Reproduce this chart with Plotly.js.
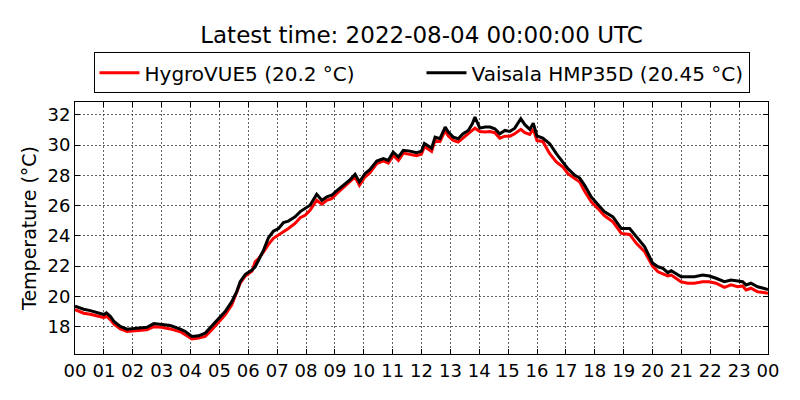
<!DOCTYPE html>
<html>
<head>
<meta charset="utf-8">
<script src="https://cdn.plot.ly/plotly-3.0.1.min.js"></script>
<style>
  html, body { margin: 0; padding: 0; background: #fff; }
  #chart { width: 800px; height: 400px; }
</style>
</head>
<body>
<div id="chart"></div>
<script>
// hours since 2022-08-03 00:00 UTC
const hours = [
  0.0, 0.3, 0.53, 0.77, 1.0, 1.09, 1.23, 1.35, 1.57, 1.8,
  2.0, 2.26, 2.49, 2.73, 3.0, 3.3, 3.65, 3.82, 4.05, 4.28,
  4.51, 4.74, 5.0, 5.2, 5.43, 5.6, 5.72, 5.9, 6.13, 6.24,
  6.36, 6.53, 6.7, 6.87, 7.05, 7.22, 7.39, 7.62, 7.8, 7.97,
  8.14, 8.37, 8.55, 8.72, 8.89, 9.06, 9.3, 9.53, 9.7, 9.85,
  10.04, 10.21, 10.45, 10.68, 10.85, 11.02, 11.2, 11.37, 11.6, 11.83,
  12.0, 12.1, 12.35, 12.47, 12.64, 12.82, 12.93, 13.1, 13.27, 13.44,
  13.62, 13.76, 13.85, 14.02, 14.2, 14.37, 14.54, 14.71, 14.89, 15.06,
  15.23, 15.44, 15.58, 15.75, 15.87, 16.0, 16.2, 16.44, 16.67, 16.9,
  17.07, 17.31, 17.48, 17.65, 17.88, 18.11, 18.34, 18.63, 18.92, 19.21,
  19.44, 19.73, 20.0, 20.19, 20.36, 20.53, 20.65, 20.82, 20.99, 21.22,
  21.45, 21.74, 21.97, 22.2, 22.49, 22.72, 22.95, 23.12, 23.24, 23.41,
  23.64, 23.85, 24.0
];

const hygroVUE5 = [
  19.12, 18.88, 18.81, 18.72, 18.59, 18.68, 18.44, 18.15, 17.84, 17.67,
  17.71, 17.73, 17.78, 17.99, 17.95, 17.84, 17.65, 17.45, 17.18, 17.23,
  17.34, 17.78, 18.33, 18.77, 19.43, 20.2, 20.86, 21.34, 21.67, 22.28,
  22.5, 22.94, 23.43, 23.83, 24.04, 24.26, 24.48, 24.82, 25.2, 25.36,
  25.69, 26.35, 26.09, 26.35, 26.46, 26.79, 27.19, 27.56, 27.89, 27.34,
  27.89, 28.15, 28.77, 28.95, 28.81, 29.32, 28.99, 29.47, 29.39, 29.3,
  29.4, 29.9, 29.58, 30.31, 30.24, 30.97, 30.59, 30.31, 30.2, 30.46,
  30.75, 30.97, 31.12, 30.9, 30.86, 30.9, 30.82, 30.46, 30.59, 30.59,
  30.75, 31.04, 30.82, 30.7, 31.06, 30.3, 30.24, 29.43, 28.88, 28.55,
  28.11, 27.78, 27.56, 26.95, 26.24, 25.8, 25.32, 24.92, 24.16, 24.09,
  23.5, 22.94, 22.0, 21.62, 21.47, 21.34, 21.4, 21.19, 20.96, 20.86,
  20.86, 20.96, 20.96, 20.86, 20.59, 20.75, 20.63, 20.68, 20.42, 20.53,
  20.3, 20.25, 20.2
];

const vaisalaHMP35D = [
  19.35, 19.14, 19.05, 18.94, 18.79, 18.9, 18.66, 18.33, 18.0, 17.82,
  17.86, 17.89, 17.95, 18.19, 18.15, 18.06, 17.82, 17.67, 17.34, 17.38,
  17.56, 18.04, 18.55, 18.99, 19.64, 20.3, 20.96, 21.45, 21.73, 21.95,
  22.4, 23.05, 23.87, 24.3, 24.48, 24.88, 24.97, 25.25, 25.6, 25.8,
  26.02, 26.75, 26.35, 26.57, 26.68, 26.97, 27.34, 27.72, 28.07, 27.56,
  28.11, 28.38, 28.95, 29.1, 28.99, 29.54, 29.21, 29.65, 29.6, 29.5,
  29.6, 30.1, 29.8, 30.53, 30.42, 31.19, 30.86, 30.53, 30.42, 30.75,
  30.97, 31.41, 31.85, 31.12, 31.19, 31.19, 31.08, 30.75, 30.97, 30.9,
  31.12, 31.74, 31.35, 31.04, 31.45, 30.6, 30.46, 30.09, 29.43, 28.88,
  28.44, 28.0, 27.82, 27.34, 26.57, 26.07, 25.58, 25.25, 24.48, 24.48,
  23.93, 23.27, 22.2, 21.95, 21.85, 21.56, 21.69, 21.47, 21.29, 21.29,
  21.29, 21.4, 21.34, 21.19, 20.96, 21.07, 21.03, 20.96, 20.75, 20.86,
  20.63, 20.5, 20.45
];

const tickHours = [0, 1, 2, 3, 4, 5, 6, 7, 8, 9, 10, 11, 12, 13, 14, 15, 16, 17, 18, 19, 20, 21, 22, 23, 24];
const tickLabels = ['00', '01', '02', '03', '04', '05', '06', '07', '08', '09', '10', '11',
  '12', '13', '14', '15', '16', '17', '18', '19', '20', '21', '22', '23', '00'];
const yTicks = [18, 20, 22, 24, 26, 28, 30, 32];

const FONT = "'DejaVu Sans', sans-serif";

const lastHygro = hygroVUE5[hygroVUE5.length - 1];
const lastVaisala = vaisalaHMP35D[vaisalaHMP35D.length - 1];

// y limits: one degree of headroom either side of the data
const allVals = hygroVUE5.concat(vaisalaHMP35D);
const yMin = Math.min(...allVals) - 1;
const yMax = Math.max(...allVals) + 1;

const axisCommon = {
  showline: true,
  linecolor: '#000',
  linewidth: 1,
  mirror: 'ticks',
  ticks: 'inside',
  ticklen: 5,
  tickwidth: 1,
  tickcolor: '#000',
  showgrid: true,
  gridcolor: '#222',
  gridwidth: 0.7,
  griddash: '1.5px,2.5px',
  zeroline: false,
  tickfont: { family: FONT, size: 18, color: '#000' }
};

Plotly.newPlot('chart', [
  {
    x: hours, y: hygroVUE5,
    type: 'scatter', mode: 'lines',
    name: `HygroVUE5 (${lastHygro} °C)`,
    line: { color: '#ff0000', width: 3 }
  },
  {
    x: hours, y: vaisalaHMP35D,
    type: 'scatter', mode: 'lines',
    name: `Vaisala HMP35D (${lastVaisala} °C)`,
    line: { color: '#000000', width: 3 }
  }
], {
  width: 800,
  height: 400,
  paper_bgcolor: '#fff',
  plot_bgcolor: '#fff',
  font: { family: FONT, color: '#000' },
  margin: { l: 74.5, r: 32, t: 102, b: 46 },
  title: {
    text: 'Latest time: 2022-08-04 00:00:00 UTC',
    font: { family: FONT, size: 23, color: '#000' },
    xref: 'paper', x: 0.5, xanchor: 'center',
    yref: 'container', y: 0.912, yanchor: 'middle'
  },
  showlegend: true,
  legend: {
    orientation: 'h',
    x: 0.5, xanchor: 'center',
    y: 1.197, yanchor: 'top',
    bordercolor: '#000', borderwidth: 1,
    bgcolor: '#fff',
    font: { family: FONT, size: 20, color: '#000' },
    entrywidth: 272,
    itemwidth: 40
  },
  xaxis: Object.assign({}, axisCommon, {
    range: [0, 24],
    tickvals: tickHours,
    ticktext: tickLabels
  }),
  yaxis: Object.assign({}, axisCommon, {
    range: [yMin, yMax],
    tickvals: yTicks,
    title: { text: 'Temperature (°C)', font: { family: FONT, size: 19, color: '#000' }, standoff: 5 }
  })
}, { displayModeBar: false, staticPlot: true });
</script>
</body>
</html>
